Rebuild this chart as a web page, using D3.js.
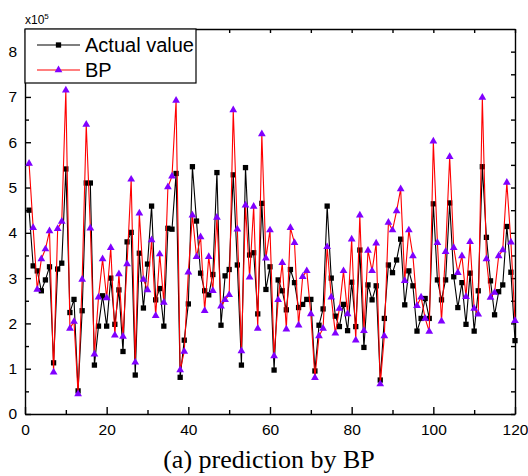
<!DOCTYPE html>
<html>
<head>
<meta charset="utf-8">
<script src="https://cdn.jsdelivr.net/npm/d3@7"></script>
<style>
  body { margin: 0; background: #fff; }
  svg { display: block; }
  .axis text { font-family: "Liberation Sans", Arial, sans-serif; font-size: 15.5px; fill: #000; }
  .axis path, .axis line { stroke: #000; stroke-width: 1.4px; }
</style>
</head>
<body>
<div id="chart"></div>
<script>
// values in units of 1e5, sample index 1..120
const actualValue = [
  4.50, 3.27, 3.16, 2.72, 2.96, 3.25, 1.13, 3.20, 3.33, 5.41,
  2.24, 2.53, 0.51, 2.28, 5.10, 5.10, 1.08, 1.94, 2.61, 1.94,
  3.00, 1.98, 2.74, 1.38, 3.80, 4.01, 0.86, 3.55, 2.34, 3.31,
  4.59, 2.52, 2.77, 1.94, 4.10, 4.08, 5.31, 0.81, 1.63, 2.43,
  5.46, 4.26, 3.11, 2.72, 2.63, 3.08, 5.33, 1.96, 3.05, 3.19,
  5.28, 3.29, 1.08, 5.44, 3.51, 3.56, 2.21, 4.65, 2.75, 3.25,
  0.97, 2.96, 2.72, 2.30, 3.19, 2.90, 2.35, 2.42, 2.53, 2.53,
  0.95, 1.96, 2.32, 4.59, 3.00, 2.16, 1.93, 2.42, 1.84, 2.91,
  1.93, 3.62, 1.47, 2.85, 2.52, 2.83, 0.75, 2.11, 3.29, 3.12,
  3.40, 3.86, 2.41, 3.16, 2.83, 1.83, 2.11, 2.55, 2.11, 4.64,
  2.96, 2.52, 2.96, 4.66, 3.03, 2.35, 2.90, 1.98, 3.11, 1.83,
  2.72, 5.46, 3.90, 2.94, 2.19, 2.70, 2.85, 4.14, 3.13, 1.62
];
const bpValue = [
  5.53, 4.11, 2.75, 3.42, 3.64, 4.04, 0.92, 4.09, 4.25, 7.15,
  1.89, 2.04, 0.44, 2.97, 6.39, 4.10, 1.32, 2.58, 3.42, 2.56,
  3.67, 1.74, 3.09, 1.71, 3.31, 5.18, 1.14, 4.43, 2.97, 2.74,
  3.84, 2.17, 3.53, 2.46, 5.01, 5.25, 6.92, 0.97, 1.38, 3.13,
  4.39, 3.47, 3.91, 2.28, 3.47, 2.72, 4.34, 2.38, 2.52, 2.63,
  6.71, 4.08, 1.39, 4.61, 3.02, 4.58, 1.89, 6.18, 3.44, 4.06,
  1.28, 2.52, 3.34, 1.87, 4.11, 3.78, 1.96, 3.03, 3.16, 2.21,
  0.80, 1.72, 1.89, 3.69, 2.58, 1.78, 2.33, 3.16, 2.21, 3.86,
  1.63, 4.39, 1.84, 3.61, 3.16, 3.77, 0.66, 1.72, 4.23, 4.06,
  4.48, 4.97, 2.94, 4.06, 3.49, 2.39, 2.58, 2.11, 1.82, 6.02,
  3.78, 2.05, 3.58, 5.68, 3.67, 3.12, 3.49, 2.59, 3.80, 2.33,
  2.20, 6.99, 3.42, 2.57, 2.68, 3.49, 3.62, 5.11, 3.79, 2.06
];
const xTicks = [0, 20, 40, 60, 80, 100, 120];
const xMinorTicks = [10, 30, 50, 70, 90, 110];
const yTicks = [0, 1, 2, 3, 4, 5, 6, 7, 8];
const yMinorTicks = [0.5, 1.5, 2.5, 3.5, 4.5, 5.5, 6.5, 7.5];
const seriesNames = ["Actual value", "BP"];

const W = 528, H = 476;
const margin = { top: 29, right: 13, bottom: 62, left: 25 };
const width = W - margin.left - margin.right;
const height = H - margin.top - margin.bottom;

const svg = d3.select("#chart").append("svg")
    .attr("width", W)
    .attr("height", H);

const g = svg.append("g")
    .attr("transform", `translate(${margin.left},${margin.top})`);

const x = d3.scaleLinear().domain([0, 120]).range([0, width]);
const y = d3.scaleLinear().domain([0, 8.5]).range([height, 0]);

// axes, ticks pointing inward
g.append("g").attr("class", "axis")
    .attr("transform", `translate(0,${height})`)
    .call(d3.axisBottom(x).tickValues(xTicks).tickSize(-7).tickSizeOuter(0).tickPadding(10));
g.append("g").attr("class", "axis")
    .attr("transform", `translate(0,${height})`)
    .call(d3.axisBottom(x).tickValues(xMinorTicks).tickSize(-4).tickFormat(""))
    .select(".domain").remove();
g.append("g").attr("class", "axis")
    .call(d3.axisLeft(y).tickValues(yTicks).tickSize(-6).tickSizeOuter(0).tickPadding(8));
g.append("g").attr("class", "axis")
    .call(d3.axisLeft(y).tickValues(yMinorTicks).tickSize(-4).tickFormat(""))
    .select(".domain").remove();
g.append("g").attr("class", "axis")
    .call(d3.axisTop(x).tickValues(xTicks.concat(xMinorTicks)).tickSize(-4).tickSizeOuter(0).tickFormat(""));
g.append("g").attr("class", "axis")
    .attr("transform", `translate(${width},0)`)
    .call(d3.axisRight(y).tickValues(yTicks.concat(yMinorTicks)).tickSize(-4).tickSizeOuter(0).tickFormat(""));

// x10^5 label
const mult = svg.append("text")
    .attr("x", margin.left)
    .attr("y", 24)
    .style("font-family", "Liberation Sans, Arial, sans-serif")
    .style("font-size", "12px");
mult.append("tspan").text("x10");
mult.append("tspan").attr("dy", -5).style("font-size", "8px").text("5");

const line = d3.line()
    .x((d, i) => x(i + 1))
    .y(d => y(d));

const squareSym = d3.symbol().type(d3.symbolSquare).size(28);
const triSym = d3.symbol().type(d3.symbolTriangle).size(26);

// Actual value series
g.append("path")
    .datum(actualValue)
    .attr("fill", "none")
    .attr("stroke", "#000")
    .attr("stroke-width", 1.1)
    .attr("d", line);

g.selectAll(".sq")
    .data(actualValue)
    .enter().append("path")
    .attr("class", "sq")
    .attr("transform", (d, i) => `translate(${x(i + 1)},${y(d)})`)
    .attr("d", squareSym)
    .attr("fill", "#000");

// BP series
g.append("path")
    .datum(bpValue)
    .attr("fill", "none")
    .attr("stroke", "#ff0000")
    .attr("stroke-width", 1.1)
    .attr("d", line);

g.selectAll(".tri")
    .data(bpValue)
    .enter().append("path")
    .attr("class", "tri")
    .attr("transform", (d, i) => `translate(${x(i + 1)},${y(d)})`)
    .attr("d", triSym)
    .attr("fill", "#8000ff");

// legend
const legend = g.append("g");
legend.append("rect")
    .attr("x", 0).attr("y", 0)
    .attr("width", 171).attr("height", 54)
    .attr("fill", "#fff")
    .attr("stroke", "#000")
    .attr("stroke-width", 1.2);

const legendStyle = [
    { color: "#000", sym: squareSym, fill: "#000" },
    { color: "#ff0000", sym: triSym, fill: "#8000ff" }
];
seriesNames.forEach((name, i) => {
    const ly = 16 + i * 25;
    legend.append("line")
        .attr("x1", 12).attr("x2", 55)
        .attr("y1", ly).attr("y2", ly)
        .attr("stroke", legendStyle[i].color)
        .attr("stroke-width", 1.1);
    legend.append("path")
        .attr("transform", `translate(33.5,${ly})`)
        .attr("d", legendStyle[i].sym)
        .attr("fill", legendStyle[i].fill);
    legend.append("text")
        .attr("x", 60)
        .attr("y", ly)
        .attr("dy", "0.36em")
        .style("font-family", "Liberation Sans, Arial, sans-serif")
        .style("font-size", "20px")
        .text(name);
});

// caption
svg.append("text")
    .attr("x", 269)
    .attr("y", 468)
    .attr("text-anchor", "middle")
    .style("font-family", "Liberation Serif, Times New Roman, serif")
    .style("font-size", "26px")
    .text("(a) prediction by BP");
</script>
</body>
</html>
